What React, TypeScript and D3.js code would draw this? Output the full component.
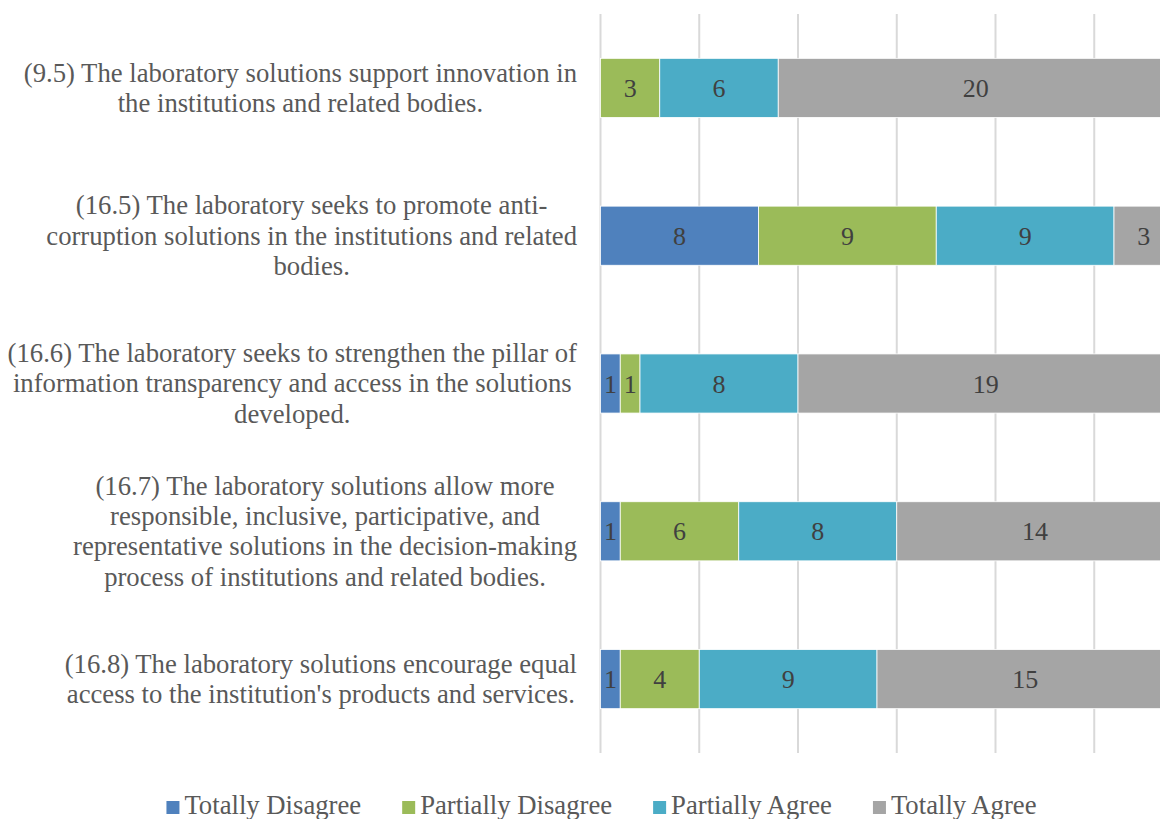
import React, { useRef, useEffect } from "react";
import * as d3 from "d3";

// category labels, already broken into the lines used in the chart
const categoryLines = [
  ["(9.5) The laboratory solutions support innovation in", "the institutions and related bodies."],
  ["(16.5) The laboratory seeks to promote anti-", "corruption solutions in the institutions and related", "bodies."],
  ["(16.6) The laboratory seeks to strengthen the pillar of", "information transparency and access in the solutions", "developed."],
  [
    "(16.7) The laboratory solutions allow more",
    "responsible, inclusive, participative, and",
    "representative solutions in the decision-making",
    "process of institutions and related bodies.",
  ],
  ["(16.8) The laboratory solutions encourage equal", "access to the institution's products and services."],
];

const seriesNames = ["Totally Disagree", "Partially Disagree", "Partially Agree", "Totally Agree"];
const totallyDisagree = [0, 8, 1, 1, 1];
const partiallyDisagree = [3, 9, 1, 6, 4];
const partiallyAgree = [6, 9, 8, 8, 9];
const totallyAgree = [20, 3, 19, 14, 15];
const xTicks = [0, 5, 10, 15, 20, 25, 30];

const seriesColors = ["#4f81bd", "#9bbb59", "#4bacc6", "#a5a5a5"];

const App = () => {
  const ref = useRef<SVGSVGElement | null>(null);

  useEffect(() => {
    const width = 1160;
    const height = 819;
    const font = "Liberation Serif, Times New Roman, DejaVu Serif, serif";
    const textColor = "#595959";
    const fontSize = 26.7;

    const svg = d3.select(ref.current);
    svg.selectAll("*").remove();
    svg.style("font-family", font);

    const seriesValues = [totallyDisagree, partiallyDisagree, partiallyAgree, totallyAgree];
    const rows = categoryLines.map((_, i) => {
      const row: any = { idx: i };
      seriesNames.forEach((s, j) => (row[s] = seriesValues[j][i]));
      return row;
    });
    const stacked = d3.stack().keys(seriesNames)(rows);

    const x = d3.scaleLinear().domain([0, 30]).range([600.5, 1193]);
    const y = d3
      .scaleBand<number>()
      .domain(d3.range(categoryLines.length))
      .range([14, 753])
      .paddingInner(0.6)
      .paddingOuter(0.3);

    // gridlines
    svg
      .append("g")
      .selectAll("line")
      .data(xTicks)
      .enter()
      .append("line")
      .attr("x1", (d) => x(d))
      .attr("x2", (d) => x(d))
      .attr("y1", 14)
      .attr("y2", 753)
      .attr("stroke", "#d9d9d9")
      .attr("stroke-width", 2);

    // bars
    const layers = svg
      .append("g")
      .selectAll("g")
      .data(stacked)
      .enter()
      .append("g")
      .attr("fill", (_, i) => seriesColors[i]);

    layers
      .selectAll("rect")
      .data((d) => d.filter((p) => p[1] - p[0] > 0))
      .enter()
      .append("rect")
      .attr("x", (d) => x(d[0]))
      .attr("y", (d: any) => y(d.data.idx)!)
      .attr("width", (d) => x(d[1]) - x(d[0]))
      .attr("height", y.bandwidth())
      .attr("stroke", "#ffffff")
      .attr("stroke-width", 0.8);

    // data labels
    layers
      .selectAll("text")
      .data((d) => d.filter((p) => p[1] - p[0] > 0))
      .enter()
      .append("text")
      .attr("x", (d) => (x(d[0]) + x(d[1])) / 2)
      .attr("y", (d: any) => y(d.data.idx)! + y.bandwidth() / 2)
      .attr("dy", "0.35em")
      .attr("text-anchor", "middle")
      .style("font-family", font)
      .attr("font-size", 26)
      .attr("fill", "#404040")
      .text((d) => d[1] - d[0]);

    // category labels: centred lines, block right-aligned against the axis
    const labelRight = 577;
    const lineH = 30.3;
    categoryLines.forEach((lines, i) => {
      const g = svg.append("g");
      const texts = g
        .selectAll("text")
        .data(lines)
        .enter()
        .append("text")
        .style("font-family", font)
        .attr("font-size", fontSize)
        .attr("fill", textColor)
        .attr("text-anchor", "middle")
        .text((d) => d);
      let maxW = 0;
      texts.each(function () {
        maxW = Math.max(maxW, (this as SVGTextElement).getComputedTextLength());
      });
      const cy = y(i)! + y.bandwidth() / 2;
      texts
        .attr("x", labelRight - maxW / 2)
        .attr("y", (_, k) => cy + (k - (lines.length - 1) / 2) * lineH)
        .attr("dy", "0.33em");
    });

    // legend
    const legend = svg.append("g");
    const sw = 13;
    const items = seriesNames.map((name, i) => {
      const t = legend
        .append("text")
        .style("font-family", font)
        .attr("font-size", fontSize)
        .attr("fill", textColor)
        .attr("y", 814)
        .text(name);
      return { t, w: (t.node() as SVGTextElement).getComputedTextLength(), i };
    });
    const gap = 41;
    const total = d3.sum(items, (d) => sw + 5 + d.w) + gap * (items.length - 1);
    let cx = 601.5 - total / 2;
    items.forEach((it) => {
      legend
        .append("rect")
        .attr("x", cx)
        .attr("y", 801)
        .attr("width", sw)
        .attr("height", sw)
        .attr("fill", seriesColors[it.i]);
      it.t.attr("x", cx + sw + 5);
      cx += sw + 5 + it.w + gap;
    });

    svg.attr("width", width).attr("height", height);
  }, []);

  return (
    <svg
      ref={ref}
      width={1160}
      height={819}
      style={{ position: "absolute", left: 0, top: 0, background: "#ffffff" }}
    />
  );
};

export default App;
